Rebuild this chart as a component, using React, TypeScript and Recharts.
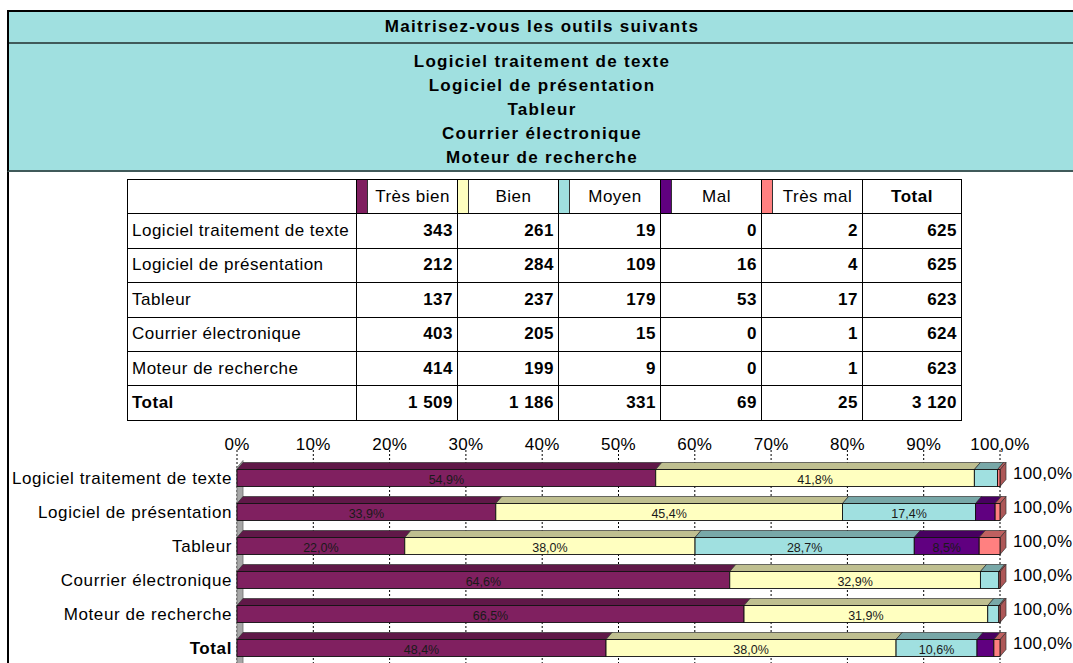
import React from 'react';
import { BarChart, Bar, XAxis, YAxis, CartesianGrid, LabelList, ReferenceArea } from 'recharts';

const title = 'Maitrisez-vous les outils suivants';
const categories = [
    'Logiciel traitement de texte',
    'Logiciel de présentation',
    'Tableur',
    'Courrier électronique',
    'Moteur de recherche',
    'Total',
];
const levels = ['Très bien', 'Bien', 'Moyen', 'Mal', 'Très mal'];
const tresBien = [343, 212, 137, 403, 414, 1509];
const bien = [261, 284, 237, 205, 199, 1186];
const moyen = [19, 109, 179, 15, 9, 331];
const mal = [0, 16, 53, 0, 0, 69];
const tresMal = [2, 4, 17, 1, 1, 25];
const totals = [625, 625, 623, 624, 623, 3120];
const pctTicks = [0, 0.1, 0.2, 0.3, 0.4, 0.5, 0.6, 0.7, 0.8, 0.9, 1];

const colors = ['#802060', '#ffffc0', '#a0e0e0', '#600080', '#ff8080'];
const series = [tresBien, bien, moyen, mal, tresMal];
const FONT = '"Liberation Sans", Arial, sans-serif';
const DX = 6;
const DY = 7;

const fmtNum = (n: number) => String(n).replace(/\B(?=(\d{3})+(?!\d))/g, ' ');
const fmtPct = (v: number) => (v * 100).toFixed(1).replace('.', ',') + '%';

const data = categories.map((name, i) => {
    const row: any = { name };
    series.forEach((s, k) => {
        row['s' + k] = s[i];
        const p = s[i] / totals[i];
        row['l' + k] = p >= 0.05 ? fmtPct(p) : '';
    });
    row.sum = fmtPct(series.reduce((a, s) => a + s[i], 0) / totals[i]);
    return row;
});

const shade = (hex: string, f: number) => {
    const n = parseInt(hex.slice(1), 16);
    const c = [(n >> 16) & 255, (n >> 8) & 255, n & 255].map((v) => Math.round(v * f));
    return `rgb(${c[0]},${c[1]},${c[2]})`;
};

// front face + top + right side, like the old excel 3d bars
const Box3D = (props: any) => {
    const { x, y, width, height, fill } = props;
    if (!(width > 0)) return null;
    const top = `${x},${y} ${x + DX},${y - DY} ${x + width + DX},${y - DY} ${x + width},${y}`;
    const side = `${x + width},${y} ${x + width + DX},${y - DY} ${x + width + DX},${y + height - DY} ${x + width},${y + height}`;
    return (
        <g>
            <polygon points={side} fill={shade(fill, 0.68)} stroke="#333" strokeWidth={0.7} />
            <polygon points={top} fill={shade(fill, 0.75)} stroke="#333" strokeWidth={0.7} />
            <rect x={x} y={y} width={width} height={height} fill={fill} stroke="#111" strokeWidth={0.9} />
        </g>
    );
};

const Wall = (props: any) => {
    const { x, y, height } = props;
    const pts = `${x},${y + DY} ${x + DX},${y} ${x + DX},${y + height} ${x},${y + height}`;
    return <polygon points={pts} fill="#a6a6a6" stroke="#6e6e6e" strokeWidth={0.8} />;
};

const vb = (p: any) => p.viewBox || p;

const SegLabel = (props: any) => {
    const { x, y, width, height } = vb(props);
    if (!props.value) return null;
    return (
        <text x={x + width / 2} y={y + height / 2 + 6} textAnchor="middle" fontSize={12.5} fill="#1a1a1a" fontFamily={FONT}>
            {props.value}
        </text>
    );
};

const SumLabel = (props: any) => {
    const { x, y, width, height } = vb(props);
    return (
        <text x={x + width + 13} y={y + height / 2 + 0.5} fontSize={17} letterSpacing={0.3} fill="#000" fontFamily={FONT}>
            {props.value}
        </text>
    );
};

const XTick = ({ x, payload }: any) => (
    <text x={x} y={29.5} textAnchor="middle" fontSize={17} letterSpacing={0.3} fill="#000" fontFamily={FONT}>
        {payload.value === 1 ? '100,0%' : `${Math.round(payload.value * 100)}%`}
    </text>
);

const YTick = ({ y, payload }: any) => (
    <text
        x={232}
        y={y + 6.5}
        textAnchor="end"
        fontSize={17}
        letterSpacing={0.6}
        fontWeight={payload.value === 'Total' ? 'bold' : 'normal'}
        fill="#000"
        fontFamily={FONT}
    >
        {payload.value}
    </text>
);

const cell: React.CSSProperties = { border: '1px solid #000', padding: 0, height: 33.4 };

const App = () => {
    return (
        <div
            style={{
                position: 'absolute',
                left: 0,
                top: 0,
                width: 1073,
                height: 663,
                overflow: 'hidden',
                background: '#fff',
                fontFamily: FONT,
            }}
        >
            {/* left frame line */}
            <div style={{ position: 'absolute', left: 7, top: 10, width: 2, height: 660, background: '#000' }} />

            {/* header band */}
            <div
                style={{
                    position: 'absolute',
                    left: 7,
                    top: 10,
                    width: 1080,
                    height: 162,
                    background: '#a0e0e0',
                    borderTop: '2px solid #000',
                    borderLeft: '2px solid #000',
                    borderBottom: '2px solid #405a5a',
                    boxSizing: 'border-box',
                }}
            >
                <div
                    style={{
                        height: 30,
                        borderBottom: '2px solid #405a5a',
                        display: 'flex',
                        alignItems: 'center',
                        justifyContent: 'center',
                        fontWeight: 'bold',
                        fontSize: 17,
                        letterSpacing: 1.3,
                        paddingRight: 12,
                    }}
                >
                    {title}
                </div>
                <div style={{ paddingTop: 6, paddingRight: 12, textAlign: 'center', fontWeight: 'bold', fontSize: 17, letterSpacing: 1.3, lineHeight: '24px' }}>
                    {categories.slice(0, 5).map((c) => (
                        <div key={c}>{c}</div>
                    ))}
                </div>
            </div>

            {/* data table */}
            <table
                style={{
                    position: 'absolute',
                    left: 127,
                    top: 179,
                    borderCollapse: 'collapse',
                    tableLayout: 'fixed',
                    width: 834,
                    fontSize: 17,
                    letterSpacing: 0.5,
                    color: '#000',
                }}
            >
                <colgroup>
                    <col style={{ width: 229 }} />
                    <col style={{ width: 101 }} />
                    <col style={{ width: 101 }} />
                    <col style={{ width: 102 }} />
                    <col style={{ width: 101 }} />
                    <col style={{ width: 101 }} />
                    <col style={{ width: 99 }} />
                </colgroup>
                <tbody>
                    <tr>
                        <td style={cell} />
                        {levels.map((lv, k) => (
                            <td key={lv} style={{ ...cell, position: 'relative' }}>
                                <div
                                    style={{
                                        position: 'absolute',
                                        left: 0,
                                        top: 0,
                                        bottom: 0,
                                        width: 10,
                                        background: colors[k],
                                        borderRight: '1px solid #333',
                                    }}
                                />
                                <div style={{ marginLeft: 11, textAlign: 'center' }}>{lv}</div>
                            </td>
                        ))}
                        <td style={{ ...cell, textAlign: 'center', fontWeight: 'bold' }}>Total</td>
                    </tr>
                    {categories.map((c, i) => (
                        <tr key={c}>
                            <td style={{ ...cell, paddingLeft: 4, fontWeight: c === 'Total' ? 'bold' : 'normal', whiteSpace: 'nowrap' }}>{c}</td>
                            {series.map((s, k) => (
                                <td key={k} style={{ ...cell, textAlign: 'right', paddingRight: 4, fontWeight: 'bold' }}>
                                    {fmtNum(s[i])}
                                </td>
                            ))}
                            <td style={{ ...cell, textAlign: 'right', paddingRight: 4, fontWeight: 'bold' }}>{fmtNum(totals[i])}</td>
                        </tr>
                    ))}
                </tbody>
            </table>

            {/* 100% stacked 3d bars */}
            <div style={{ position: 'absolute', left: 0, top: 420 }}>
                <BarChart
                    width={1073}
                    height={250}
                    data={data}
                    layout="vertical"
                    stackOffset="expand"
                    margin={{ top: 0, right: 73, bottom: 5.5, left: 0 }}
                >
                    <CartesianGrid horizontal={false} stroke="#000" strokeDasharray="2 2" />
                    <XAxis
                        type="number"
                        orientation="top"
                        domain={[0, 1]}
                        ticks={pctTicks}
                        height={30}
                        axisLine={false}
                        tickLine={false}
                        tick={<XTick />}
                        interval={0}
                    />
                    <YAxis
                        type="category"
                        dataKey="name"
                        width={237}
                        axisLine={false}
                        tickLine={false}
                        tick={<YTick />}
                        interval={0}
                        padding={{ top: 10.5, bottom: 0 }}
                    />
                    <ReferenceArea x1={0} x2={0.01} shape={<Wall />} ifOverflow="visible" />
                    {levels.map((lv, k) => (
                        <Bar
                            key={lv}
                            dataKey={'s' + k}
                            name={lv}
                            stackId="a"
                            fill={colors[k]}
                            barSize={17}
                            shape={<Box3D />}
                            isAnimationActive={false}
                        >
                            <LabelList dataKey={'l' + k} content={<SegLabel />} />
                            {k === levels.length - 1 && <LabelList dataKey="sum" content={<SumLabel />} />}
                        </Bar>
                    ))}
                </BarChart>
            </div>
        </div>
    );
};

export default App;
